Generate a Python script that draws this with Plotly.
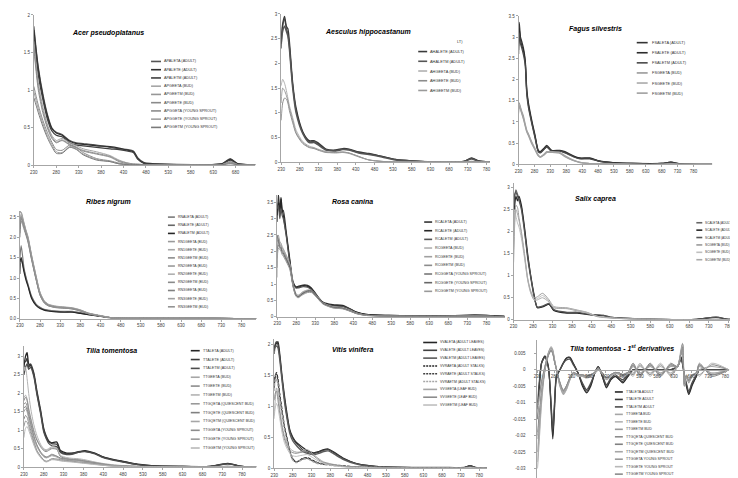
"""UV-Vis spectra of plant extracts - nine panel Excel style recreation."""

import plotly.graph_objects as go

W, H = 738, 478
FONT = "Liberation Sans"
AXIS = "#a6a6a6"

TICK_NM = [230, 280, 330, 380, 430, 480, 530, 580, 630, 680, 730, 780]

# ---------------- Acer pseudoplatanus ----------------
ACER_NM = [230, 235, 240, 250, 260, 270, 280, 293, 310, 325, 340, 370, 400, 420, 440, 452, 462, 475, 500, 600, 650, 668, 685, 724]
ap_aleta = [1.85, 1.55, 1.30, 0.95, 0.68, 0.50, 0.44, 0.41, 0.33, 0.30, 0.29, 0.27, 0.24, 0.22, 0.21, 0.19, 0.10, 0.04, 0.02, 0.01, 0.02, 0.09, 0.02, 0.01]
ap_alete = [1.80, 1.52, 1.27, 0.92, 0.66, 0.49, 0.43, 0.40, 0.32, 0.29, 0.28, 0.26, 0.25, 0.23, 0.20, 0.18, 0.09, 0.03, 0.02, 0.01, 0.02, 0.08, 0.02, 0.01]
ap_aletm = [1.72, 1.45, 1.20, 0.88, 0.62, 0.46, 0.40, 0.38, 0.30, 0.27, 0.26, 0.24, 0.22, 0.21, 0.19, 0.17, 0.08, 0.03, 0.01, 0.01, 0.02, 0.07, 0.02, 0.01]
ap_geeta = [1.65, 1.35, 1.10, 0.78, 0.55, 0.40, 0.33, 0.36, 0.30, 0.26, 0.22, 0.18, 0.13, 0.07, 0.03, 0.02, 0.02, 0.01, 0.01, 0.01, 0.01, 0.05, 0.01, 0.01]
ap_geetm = [1.60, 1.30, 1.05, 0.74, 0.52, 0.38, 0.31, 0.34, 0.28, 0.24, 0.20, 0.16, 0.12, 0.06, 0.03, 0.02, 0.01, 0.01, 0.01, 0.01, 0.01, 0.05, 0.01, 0.01]
ap_geete = [1.55, 1.25, 1.00, 0.70, 0.50, 0.36, 0.30, 0.33, 0.27, 0.23, 0.19, 0.15, 0.11, 0.05, 0.02, 0.01, 0.01, 0.01, 0.01, 0.01, 0.01, 0.04, 0.01, 0.01]
ap_ggeta = [1.05, 0.92, 0.80, 0.60, 0.44, 0.31, 0.21, 0.20, 0.27, 0.24, 0.17, 0.09, 0.06, 0.03, 0.01, 0.01, 0.01, 0.00, 0.00, 0.00, 0.01, 0.03, 0.01, 0.00]
ap_ggete = [0.98, 0.86, 0.75, 0.56, 0.40, 0.28, 0.18, 0.17, 0.25, 0.22, 0.15, 0.08, 0.05, 0.02, 0.01, 0.01, 0.01, 0.00, 0.00, 0.00, 0.01, 0.03, 0.01, 0.00]
ap_ggetm = [0.90, 0.80, 0.70, 0.52, 0.37, 0.25, 0.16, 0.16, 0.24, 0.21, 0.14, 0.07, 0.05, 0.02, 0.01, 0.01, 0.01, 0.00, 0.00, 0.00, 0.01, 0.02, 0.01, 0.00]

# ---------------- Aesculus hippocastanum ----------------
AESC_NM = [230, 234, 239, 244, 248, 252, 261, 270, 288, 305, 318, 328, 350, 376, 395, 412, 438, 465, 500, 536, 580, 650, 720, 740, 760, 789]
ah_aleta = [2.30, 2.75, 2.90, 2.70, 2.60, 2.35, 1.55, 1.05, 0.60, 0.42, 0.42, 0.38, 0.26, 0.24, 0.27, 0.26, 0.20, 0.17, 0.12, 0.06, 0.03, 0.01, 0.02, 0.08, 0.03, 0.01]
ah_alete = [2.50, 2.80, 2.95, 2.75, 2.70, 2.45, 1.60, 1.10, 0.62, 0.44, 0.44, 0.40, 0.27, 0.25, 0.28, 0.27, 0.21, 0.18, 0.12, 0.06, 0.03, 0.01, 0.02, 0.09, 0.03, 0.01]
ah_aletm = [2.40, 2.65, 2.75, 2.65, 2.55, 2.30, 1.50, 1.00, 0.58, 0.40, 0.40, 0.36, 0.25, 0.23, 0.26, 0.25, 0.19, 0.16, 0.11, 0.05, 0.03, 0.01, 0.02, 0.07, 0.02, 0.01]
ah_geeta = [1.55, 1.68, 1.60, 1.45, 1.30, 1.15, 0.90, 0.65, 0.42, 0.33, 0.30, 0.27, 0.22, 0.20, 0.21, 0.19, 0.12, 0.05, 0.02, 0.01, 0.01, 0.01, 0.01, 0.02, 0.01, 0.01]
ah_geete = [0.85, 1.20, 1.30, 1.28, 1.20, 1.05, 0.80, 0.58, 0.38, 0.30, 0.28, 0.25, 0.20, 0.20, 0.21, 0.19, 0.12, 0.05, 0.02, 0.01, 0.01, 0.01, 0.01, 0.02, 0.01, 0.01]
ah_geetm = [1.20, 1.50, 1.45, 1.35, 1.25, 1.10, 0.85, 0.60, 0.40, 0.31, 0.29, 0.26, 0.21, 0.19, 0.20, 0.18, 0.11, 0.05, 0.02, 0.01, 0.01, 0.01, 0.01, 0.02, 0.01, 0.01]

# ---------------- Fagus silvestris ----------------
FAGUS_NM = [230, 232, 236, 240, 245, 251, 256, 261, 272, 282, 292, 298, 310, 319, 334, 360, 376, 402, 423, 454, 485, 527, 589, 680, 709, 740, 839]
fs_aleta = [2.80, 3.35, 3.00, 2.90, 2.75, 2.45, 1.75, 1.45, 1.02, 0.68, 0.33, 0.30, 0.38, 0.45, 0.33, 0.33, 0.30, 0.20, 0.15, 0.15, 0.08, 0.04, 0.02, 0.02, 0.05, 0.01, 0.00]
fs_alete = [2.60, 3.20, 2.95, 2.80, 2.70, 2.40, 1.70, 1.40, 0.98, 0.65, 0.31, 0.28, 0.36, 0.42, 0.32, 0.32, 0.28, 0.19, 0.14, 0.14, 0.07, 0.04, 0.02, 0.02, 0.05, 0.01, 0.00]
fs_aletm = [2.70, 3.10, 2.85, 2.75, 2.60, 2.35, 1.65, 1.35, 0.95, 0.62, 0.30, 0.27, 0.35, 0.41, 0.31, 0.31, 0.27, 0.18, 0.13, 0.13, 0.07, 0.03, 0.02, 0.02, 0.04, 0.01, 0.00]
fs_geeta = [1.30, 1.45, 1.35, 1.25, 1.15, 0.95, 0.80, 0.72, 0.52, 0.37, 0.22, 0.18, 0.24, 0.30, 0.30, 0.28, 0.20, 0.10, 0.05, 0.02, 0.01, 0.01, 0.00, 0.00, 0.01, 0.00, 0.00]
fs_geete = [1.25, 1.42, 1.32, 1.22, 1.10, 0.92, 0.78, 0.70, 0.50, 0.35, 0.21, 0.17, 0.23, 0.29, 0.29, 0.27, 0.19, 0.09, 0.05, 0.02, 0.01, 0.01, 0.00, 0.00, 0.01, 0.00, 0.00]
fs_geetm = [1.20, 1.38, 1.30, 1.20, 1.08, 0.90, 0.76, 0.68, 0.48, 0.34, 0.20, 0.17, 0.22, 0.28, 0.28, 0.26, 0.18, 0.09, 0.04, 0.02, 0.01, 0.01, 0.00, 0.00, 0.01, 0.00, 0.00]

# ---------------- Ribes nigrum ----------------
RIBES_NM = [230, 233, 240, 245, 250, 259, 270, 280, 290, 300, 320, 340, 360, 380, 400, 420, 440, 460, 480, 600, 712, 817]
rn_aleta = [1.50, 1.80, 1.25, 1.02, 0.85, 0.55, 0.36, 0.28, 0.23, 0.21, 0.19, 0.18, 0.18, 0.15, 0.11, 0.08, 0.05, 0.02, 0.01, 0.01, 0.01, 0.00]
rn_alete = [1.10, 1.45, 1.20, 1.00, 0.82, 0.52, 0.34, 0.27, 0.22, 0.20, 0.18, 0.17, 0.17, 0.14, 0.10, 0.08, 0.05, 0.02, 0.01, 0.01, 0.01, 0.00]
rn_aletm = [1.40, 1.50, 1.15, 0.95, 0.80, 0.50, 0.33, 0.25, 0.21, 0.19, 0.17, 0.16, 0.16, 0.13, 0.10, 0.07, 0.04, 0.02, 0.01, 0.01, 0.01, 0.00]
rn_1geeta = [2.65, 2.60, 2.35, 2.15, 1.98, 1.52, 1.02, 0.62, 0.42, 0.34, 0.29, 0.27, 0.25, 0.20, 0.13, 0.09, 0.05, 0.02, 0.01, 0.01, 0.01, 0.00]
rn_1geete = [2.40, 2.55, 2.30, 2.12, 1.95, 1.50, 1.00, 0.60, 0.41, 0.33, 0.28, 0.27, 0.25, 0.20, 0.13, 0.09, 0.05, 0.02, 0.01, 0.01, 0.01, 0.00]
rn_1geetm = [2.00, 2.45, 2.25, 2.08, 1.90, 1.46, 0.97, 0.58, 0.40, 0.32, 0.28, 0.26, 0.24, 0.19, 0.12, 0.08, 0.05, 0.02, 0.01, 0.01, 0.01, 0.00]
rn_2geeta = [2.30, 2.50, 2.32, 2.15, 2.00, 1.55, 1.05, 0.64, 0.44, 0.35, 0.30, 0.28, 0.26, 0.21, 0.14, 0.09, 0.05, 0.02, 0.01, 0.01, 0.01, 0.00]
rn_2geete = [2.50, 2.58, 2.28, 2.10, 1.93, 1.48, 0.99, 0.60, 0.41, 0.33, 0.29, 0.27, 0.25, 0.20, 0.13, 0.09, 0.05, 0.02, 0.01, 0.01, 0.01, 0.00]
rn_2geetm = [2.10, 2.40, 2.20, 2.05, 1.88, 1.44, 0.96, 0.57, 0.39, 0.32, 0.27, 0.26, 0.24, 0.19, 0.12, 0.08, 0.04, 0.02, 0.01, 0.01, 0.01, 0.00]
rn_3geeta = [2.20, 2.48, 2.30, 2.12, 1.96, 1.51, 1.01, 0.61, 0.42, 0.34, 0.29, 0.28, 0.26, 0.21, 0.13, 0.09, 0.05, 0.02, 0.01, 0.01, 0.01, 0.00]
rn_3geete = [2.60, 2.62, 2.36, 2.18, 2.02, 1.56, 1.06, 0.65, 0.45, 0.36, 0.31, 0.29, 0.27, 0.22, 0.14, 0.10, 0.06, 0.02, 0.01, 0.01, 0.01, 0.00]
rn_3geetm = [2.35, 2.52, 2.27, 2.10, 1.94, 1.49, 0.99, 0.59, 0.40, 0.33, 0.28, 0.27, 0.25, 0.20, 0.13, 0.09, 0.05, 0.02, 0.01, 0.01, 0.01, 0.00]

# ---------------- Rosa canina ----------------
ROSA_NM = [230, 233, 237, 240, 243, 246, 254, 263, 272, 279, 285, 298, 310, 320, 333, 350, 376, 402, 424, 437, 463, 524, 650, 750, 828]
rc_aleta = [2.90, 3.75, 3.30, 3.60, 3.20, 3.25, 2.57, 1.77, 1.06, 0.92, 0.93, 0.97, 0.96, 0.88, 0.68, 0.45, 0.37, 0.35, 0.23, 0.15, 0.07, 0.04, 0.02, 0.05, 0.01]
rc_alete = [3.10, 3.50, 3.15, 3.65, 3.30, 3.10, 2.50, 1.70, 1.02, 0.90, 0.90, 0.95, 0.93, 0.85, 0.65, 0.43, 0.35, 0.33, 0.22, 0.14, 0.07, 0.04, 0.02, 0.05, 0.01]
rc_aletm = [3.30, 3.40, 3.00, 3.30, 3.10, 3.00, 2.45, 1.65, 1.00, 0.88, 0.88, 0.92, 0.90, 0.82, 0.63, 0.42, 0.33, 0.31, 0.21, 0.13, 0.06, 0.03, 0.02, 0.04, 0.01]
rc_geeta = [1.20, 2.40, 2.25, 2.20, 2.10, 2.05, 1.85, 1.60, 0.98, 0.70, 0.64, 0.75, 0.80, 0.80, 0.65, 0.42, 0.30, 0.27, 0.18, 0.12, 0.05, 0.02, 0.01, 0.02, 0.00]
rc_geete = [1.80, 2.50, 2.30, 2.25, 2.15, 2.08, 1.88, 1.62, 1.00, 0.72, 0.66, 0.77, 0.82, 0.81, 0.66, 0.43, 0.31, 0.28, 0.19, 0.12, 0.05, 0.02, 0.01, 0.02, 0.00]
rc_geetm = [2.30, 2.35, 2.20, 2.15, 2.05, 2.00, 1.80, 1.55, 0.95, 0.68, 0.62, 0.73, 0.78, 0.78, 0.63, 0.41, 0.29, 0.26, 0.17, 0.11, 0.05, 0.02, 0.01, 0.02, 0.00]
rc_ggeta = [2.00, 2.20, 2.10, 2.05, 1.95, 1.90, 1.72, 1.50, 0.92, 0.65, 0.60, 0.70, 0.76, 0.76, 0.62, 0.40, 0.28, 0.25, 0.16, 0.10, 0.04, 0.02, 0.01, 0.02, 0.00]
rc_ggete = [2.50, 2.30, 2.15, 2.10, 2.00, 1.95, 1.76, 1.52, 0.94, 0.67, 0.61, 0.72, 0.79, 0.79, 0.64, 0.41, 0.29, 0.26, 0.17, 0.11, 0.05, 0.02, 0.01, 0.02, 0.00]
rc_ggetm = [1.50, 2.10, 2.05, 2.00, 1.90, 1.85, 1.68, 1.45, 0.90, 0.63, 0.58, 0.68, 0.74, 0.74, 0.60, 0.39, 0.27, 0.24, 0.16, 0.10, 0.04, 0.02, 0.01, 0.02, 0.00]

# ---------------- Salix caprea ----------------
SALIX_NM = [230, 233, 236, 240, 244, 250, 258, 266, 274, 283, 291, 304, 321, 333, 367, 393, 418, 444, 460, 477, 520, 600, 700, 749, 780, 823]
sc_aleta = [2.40, 2.80, 2.95, 2.85, 2.75, 2.55, 2.05, 1.40, 0.95, 0.50, 0.28, 0.30, 0.36, 0.22, 0.16, 0.16, 0.13, 0.10, 0.10, 0.06, 0.03, 0.01, 0.01, 0.06, 0.01, 0.00]
sc_alete = [2.20, 2.60, 2.80, 2.70, 2.80, 2.60, 2.10, 1.50, 1.00, 0.55, 0.27, 0.29, 0.35, 0.21, 0.15, 0.15, 0.12, 0.10, 0.09, 0.05, 0.03, 0.01, 0.01, 0.05, 0.01, 0.00]
sc_aletm = [2.50, 2.85, 2.90, 2.80, 2.70, 2.50, 2.00, 1.45, 0.98, 0.52, 0.29, 0.31, 0.37, 0.23, 0.17, 0.17, 0.13, 0.11, 0.10, 0.06, 0.03, 0.01, 0.01, 0.06, 0.01, 0.00]
sc_geeta = [1.30, 2.20, 2.60, 2.55, 2.30, 2.00, 1.50, 0.95, 0.65, 0.50, 0.52, 0.60, 0.45, 0.30, 0.27, 0.22, 0.17, 0.08, 0.06, 0.05, 0.02, 0.01, 0.00, 0.01, 0.00, 0.00]
sc_geete = [1.80, 2.50, 2.35, 2.20, 2.10, 1.85, 1.40, 0.90, 0.60, 0.46, 0.48, 0.55, 0.42, 0.28, 0.26, 0.21, 0.16, 0.08, 0.06, 0.04, 0.02, 0.01, 0.00, 0.01, 0.00, 0.00]
sc_geetm = [1.60, 2.30, 2.50, 2.40, 2.25, 1.95, 1.45, 0.92, 0.62, 0.44, 0.45, 0.50, 0.40, 0.27, 0.25, 0.20, 0.15, 0.07, 0.05, 0.04, 0.02, 0.01, 0.00, 0.01, 0.00, 0.00]

# ---------------- Tilia tomentosa ----------------
TILIA_NM = [230, 234, 238, 242, 247, 255, 263, 272, 280, 286, 292, 300, 313, 322, 338, 351, 367, 384, 409, 430, 451, 484, 517, 551, 620, 700, 744, 780, 816]
tt_aleta = [2.70, 3.00, 3.10, 2.80, 2.75, 2.50, 2.00, 1.50, 1.00, 0.82, 0.70, 0.66, 0.68, 0.45, 0.38, 0.38, 0.40, 0.45, 0.38, 0.28, 0.22, 0.15, 0.08, 0.04, 0.02, 0.02, 0.10, 0.02, 0.01]
tt_alete = [2.90, 2.85, 2.95, 2.70, 2.80, 2.55, 2.05, 1.55, 1.05, 0.85, 0.72, 0.64, 0.62, 0.42, 0.36, 0.37, 0.42, 0.43, 0.37, 0.27, 0.21, 0.14, 0.07, 0.04, 0.02, 0.02, 0.09, 0.02, 0.01]
tt_aletm = [2.50, 2.70, 2.80, 2.65, 2.70, 2.45, 1.95, 1.45, 0.95, 0.78, 0.65, 0.58, 0.55, 0.40, 0.34, 0.35, 0.40, 0.42, 0.36, 0.26, 0.20, 0.13, 0.07, 0.03, 0.02, 0.02, 0.09, 0.02, 0.01]
tt_geeta = [1.90, 1.95, 1.85, 1.60, 1.35, 1.00, 0.75, 0.58, 0.48, 0.45, 0.48, 0.52, 0.50, 0.30, 0.24, 0.22, 0.21, 0.18, 0.13, 0.09, 0.06, 0.03, 0.02, 0.01, 0.01, 0.00, 0.02, 0.00, 0.00]
tt_geete = [1.80, 1.90, 1.80, 1.55, 1.30, 0.95, 0.72, 0.55, 0.45, 0.42, 0.45, 0.50, 0.48, 0.29, 0.23, 0.21, 0.20, 0.17, 0.12, 0.08, 0.05, 0.03, 0.02, 0.01, 0.01, 0.00, 0.02, 0.00, 0.00]
tt_geetm = [2.60, 2.70, 2.40, 2.00, 1.60, 1.15, 0.85, 0.62, 0.50, 0.47, 0.50, 0.55, 0.52, 0.32, 0.26, 0.24, 0.23, 0.20, 0.14, 0.10, 0.07, 0.04, 0.02, 0.01, 0.01, 0.00, 0.03, 0.00, 0.00]
tt_gqeta = [1.70, 1.75, 1.65, 1.45, 1.20, 0.85, 0.60, 0.42, 0.32, 0.28, 0.30, 0.35, 0.30, 0.25, 0.22, 0.20, 0.19, 0.16, 0.12, 0.08, 0.05, 0.03, 0.02, 0.01, 0.01, 0.00, 0.02, 0.00, 0.00]
tt_gqete = [1.60, 1.65, 1.55, 1.38, 1.15, 0.82, 0.58, 0.40, 0.30, 0.26, 0.28, 0.33, 0.29, 0.24, 0.21, 0.19, 0.18, 0.15, 0.11, 0.08, 0.05, 0.03, 0.02, 0.01, 0.01, 0.00, 0.02, 0.00, 0.00]
tt_gqetm = [1.50, 1.58, 1.50, 1.32, 1.10, 0.78, 0.55, 0.38, 0.28, 0.25, 0.27, 0.31, 0.27, 0.22, 0.20, 0.18, 0.17, 0.14, 0.10, 0.07, 0.04, 0.02, 0.01, 0.01, 0.01, 0.00, 0.02, 0.00, 0.00]
tt_ggeta = [1.30, 1.40, 1.35, 1.20, 1.00, 0.70, 0.45, 0.30, 0.20, 0.16, 0.18, 0.23, 0.22, 0.20, 0.18, 0.16, 0.14, 0.12, 0.09, 0.06, 0.04, 0.02, 0.01, 0.01, 0.00, 0.00, 0.01, 0.00, 0.00]
tt_ggete = [1.10, 1.25, 1.22, 1.10, 0.92, 0.65, 0.42, 0.28, 0.18, 0.15, 0.17, 0.21, 0.20, 0.18, 0.16, 0.15, 0.13, 0.11, 0.08, 0.05, 0.03, 0.02, 0.01, 0.01, 0.00, 0.00, 0.01, 0.00, 0.00]
tt_ggetm = [0.80, 1.05, 1.10, 1.00, 0.85, 0.60, 0.40, 0.26, 0.17, 0.14, 0.16, 0.20, 0.19, 0.17, 0.15, 0.14, 0.12, 0.10, 0.07, 0.05, 0.03, 0.02, 0.01, 0.01, 0.00, 0.00, 0.01, 0.00, 0.00]

# ---------------- Vitis vinifera ----------------
VITIS_NM = [230, 232, 236, 240, 245, 251, 257, 264, 272, 280, 289, 297, 306, 319, 336, 350, 363, 375, 390, 416, 448, 484, 520, 600, 700, 740, 755, 770, 800]
vv_aleta = [1.90, 1.98, 2.02, 2.05, 1.85, 1.50, 1.20, 0.90, 0.62, 0.50, 0.42, 0.38, 0.34, 0.28, 0.25, 0.27, 0.30, 0.31, 0.26, 0.16, 0.08, 0.04, 0.02, 0.01, 0.01, 0.01, 0.04, 0.01, 0.00]
vv_alete = [1.95, 2.00, 2.05, 2.00, 1.80, 1.45, 1.15, 0.85, 0.60, 0.48, 0.40, 0.36, 0.30, 0.26, 0.24, 0.26, 0.29, 0.30, 0.25, 0.15, 0.08, 0.04, 0.02, 0.01, 0.01, 0.01, 0.04, 0.01, 0.00]
vv_aletm = [1.85, 1.95, 1.98, 1.95, 1.75, 1.42, 1.10, 0.82, 0.56, 0.44, 0.37, 0.32, 0.27, 0.24, 0.22, 0.24, 0.27, 0.28, 0.23, 0.14, 0.07, 0.03, 0.02, 0.01, 0.01, 0.01, 0.03, 0.01, 0.00]
vv_raeta = [1.30, 1.45, 1.55, 1.45, 1.20, 0.95, 0.70, 0.50, 0.28, 0.15, 0.10, 0.12, 0.16, 0.17, 0.12, 0.08, 0.07, 0.06, 0.05, 0.04, 0.02, 0.01, 0.01, 0.00, 0.00, 0.00, 0.01, 0.00, 0.00]
vv_raete = [1.35, 1.50, 1.52, 1.40, 1.15, 0.90, 0.68, 0.48, 0.27, 0.14, 0.10, 0.12, 0.15, 0.16, 0.11, 0.08, 0.06, 0.06, 0.05, 0.03, 0.02, 0.01, 0.01, 0.00, 0.00, 0.00, 0.01, 0.00, 0.00]
vv_raetm = [1.25, 1.40, 1.45, 1.35, 1.10, 0.88, 0.65, 0.45, 0.25, 0.13, 0.09, 0.11, 0.14, 0.15, 0.10, 0.07, 0.06, 0.05, 0.04, 0.03, 0.02, 0.01, 0.01, 0.00, 0.00, 0.00, 0.01, 0.00, 0.00]
vv_geeta = [0.85, 1.05, 1.30, 1.20, 0.95, 0.70, 0.52, 0.40, 0.32, 0.28, 0.26, 0.26, 0.28, 0.30, 0.22, 0.15, 0.10, 0.08, 0.06, 0.03, 0.02, 0.01, 0.01, 0.00, 0.00, 0.00, 0.01, 0.00, 0.00]
vv_geete = [1.10, 1.20, 1.25, 1.10, 0.88, 0.65, 0.48, 0.36, 0.28, 0.25, 0.24, 0.25, 0.26, 0.27, 0.20, 0.13, 0.09, 0.07, 0.05, 0.03, 0.02, 0.01, 0.01, 0.00, 0.00, 0.00, 0.01, 0.00, 0.00]
vv_geetm = [0.80, 0.95, 1.05, 0.98, 0.80, 0.58, 0.42, 0.32, 0.24, 0.20, 0.19, 0.20, 0.21, 0.22, 0.16, 0.11, 0.08, 0.06, 0.04, 0.02, 0.01, 0.01, 0.00, 0.00, 0.00, 0.00, 0.01, 0.00, 0.00]

# ---------------- Tilia tomentosa - 1st derivatives ----------------
DERIV_NM = [230, 236, 242, 252, 262, 270, 275, 280, 286, 296, 306, 315, 325, 335, 349, 362, 374, 386, 398, 408,
            420, 432, 445, 458, 470, 480, 495, 510, 530, 560, 590, 620, 640, 650, 655, 660, 666, 673, 682, 695,
            704, 740, 791]
d_aleta = [-0.012, -0.004, 0.002, 0.004, 0.001, -0.012, -0.021, -0.012, -0.002, 0.000, 0.002, 0.0035, 0.0038, 0.002, -0.001, -0.005, -0.007, -0.005, -0.001, 0.001,
           -0.002, -0.0055, -0.003, -0.002, -0.003, -0.004, -0.002, 0.000, 0.000, 0.000, 0.000, 0.000, 0.001, 0.004, 0.002, -0.002, -0.005, -0.0075, -0.005, -0.002,
           0.000, 0.000, 0.000]
d_alete = [-0.015, -0.005, 0.002, 0.0042, 0.001, -0.011, -0.020, -0.011, -0.002, 0.000, 0.0022, 0.0036, 0.0036, 0.0018, -0.001, -0.0045, -0.0065, -0.0045, -0.001, 0.001,
           -0.002, -0.005, -0.003, -0.002, -0.003, -0.0035, -0.002, 0.000, 0.000, 0.000, 0.000, 0.000, 0.001, 0.0035, 0.002, -0.002, -0.0045, -0.007, -0.0045, -0.002,
           0.000, 0.000, 0.000]
d_aletm = [-0.010, -0.003, 0.002, 0.0038, 0.0005, -0.010, -0.018, -0.010, -0.0015, 0.000, 0.002, 0.003, 0.0032, 0.0015, -0.001, -0.004, -0.006, -0.004, -0.001, 0.0008,
           -0.0015, -0.0045, -0.0025, -0.0015, -0.0025, -0.003, -0.0015, 0.000, 0.000, 0.000, 0.000, 0.000, 0.001, 0.003, 0.0015, -0.0015, -0.004, -0.0065, -0.004, -0.0015,
           0.000, 0.000, 0.000]
d_geeta = [-0.030, -0.020, -0.010, 0.000, 0.005, 0.007, 0.006, 0.003, 0.000, -0.005, -0.0075, -0.006, -0.003, -0.001, -0.002, -0.002, -0.0025, -0.002, -0.001, 0.000,
           -0.001, -0.003, -0.002, -0.001, -0.0015, -0.002, -0.001, 0.001, -0.001, 0.001, -0.001, 0.001, 0.001, 0.006, 0.008, -0.005, -0.002, -0.004, -0.002, -0.001,
           0.000, 0.001, 0.000]
d_geete = [-0.028, -0.018, -0.009, 0.0005, 0.0052, 0.0068, 0.0058, 0.003, 0.000, -0.0048, -0.0072, -0.0058, -0.003, -0.001, -0.0018, -0.002, -0.0022, -0.0018, -0.001, 0.000,
           -0.0012, -0.0028, -0.0018, -0.001, -0.0012, -0.0018, -0.001, -0.001, 0.001, -0.001, 0.001, -0.001, 0.001, 0.005, 0.007, -0.004, -0.002, -0.0035, -0.002, -0.001,
           0.001, -0.001, 0.000]
d_geetm = [-0.025, -0.016, -0.008, 0.000, 0.0048, 0.0065, 0.0055, 0.0028, 0.000, -0.0045, -0.007, -0.0055, -0.0028, -0.001, -0.0015, -0.0018, -0.002, -0.0015, -0.0008, 0.000,
           -0.001, -0.0025, -0.0015, -0.001, -0.001, -0.0015, -0.001, 0.0015, -0.0015, 0.0015, -0.0015, 0.0015, 0.001, 0.0045, 0.0065, -0.0035, -0.0015, -0.003, -0.0015, -0.001,
           0.0015, -0.0015, 0.000]
d_gqeta = [-0.020, -0.014, -0.007, 0.000, 0.0045, 0.006, 0.005, 0.0025, 0.000, -0.004, -0.0065, -0.005, -0.0025, -0.0008, -0.0015, -0.0015, -0.002, -0.0015, -0.0008, 0.0005,
           -0.001, -0.0025, -0.0015, -0.0008, -0.001, -0.0015, -0.0008, 0.002, -0.002, 0.002, -0.002, 0.002, 0.001, 0.005, 0.0075, -0.0045, -0.002, -0.0035, -0.002, -0.001,
           0.002, -0.002, 0.000]
d_gqete = [-0.019, -0.013, -0.0065, 0.000, 0.0042, 0.0058, 0.0048, 0.0024, 0.000, -0.0038, -0.0062, -0.0048, -0.0024, -0.0008, -0.0014, -0.0015, -0.0018, -0.0014, -0.0008, 0.0004,
           -0.0009, -0.0024, -0.0014, -0.0008, -0.001, -0.0014, -0.0008, -0.0015, 0.0015, -0.0015, 0.0015, -0.0015, 0.001, 0.0048, 0.007, -0.004, -0.0018, -0.0032, -0.0018, -0.0009,
           -0.0015, 0.0015, 0.000]
d_gqetm = [-0.021, -0.015, -0.0075, 0.000, 0.0046, 0.0062, 0.0052, 0.0026, 0.000, -0.0042, -0.0068, -0.0052, -0.0026, -0.0009, -0.0016, -0.0016, -0.0021, -0.0016, -0.0009, 0.0005,
           -0.0011, -0.0026, -0.0016, -0.0009, -0.0011, -0.0016, -0.0009, 0.001, -0.001, 0.001, -0.001, 0.001, 0.001, 0.0052, 0.0078, -0.005, -0.0021, -0.0037, -0.0021, -0.0011,
           0.001, -0.001, 0.000]
d_ggeta = [-0.012, -0.008, -0.004, 0.001, 0.005, 0.0065, 0.0055, 0.003, 0.000, -0.0045, -0.007, -0.0055, -0.0028, -0.001, -0.0018, -0.0018, -0.0022, -0.0018, -0.0009, 0.0003,
           -0.0011, -0.0027, -0.0017, -0.0009, -0.0012, -0.0017, -0.0009, 0.002, -0.0015, 0.0015, -0.002, 0.0015, 0.001, 0.0055, 0.0078, -0.0048, -0.002, -0.0038, -0.002, -0.001,
           0.0015, -0.0015, 0.000]
d_ggete = [-0.013, -0.009, -0.0045, 0.0008, 0.0048, 0.0063, 0.0053, 0.0028, 0.000, -0.0043, -0.0068, -0.0053, -0.0027, -0.001, -0.0017, -0.0017, -0.0021, -0.0017, -0.0009, 0.0003,
           -0.001, -0.0026, -0.0016, -0.0009, -0.0011, -0.0016, -0.0009, -0.002, 0.002, -0.002, 0.002, -0.002, 0.001, 0.0052, 0.0074, -0.0046, -0.002, -0.0036, -0.002, -0.001,
           -0.002, 0.002, 0.000]
d_ggetm = [-0.011, -0.0075, -0.0035, 0.001, 0.0046, 0.006, 0.005, 0.0026, 0.000, -0.004, -0.0065, -0.005, -0.0025, -0.0009, -0.0016, -0.0016, -0.002, -0.0016, -0.0008, 0.0003,
           -0.001, -0.0024, -0.0015, -0.0008, -0.001, -0.0015, -0.0008, 0.0015, -0.0015, 0.0015, -0.0015, 0.0015, 0.001, 0.005, 0.007, -0.0044, -0.0019, -0.0034, -0.0019, -0.0009,
           0.0015, -0.0015, 0.000]

DERIV_TICKS = [0.005, 0, -0.005, -0.01, -0.015, -0.02, -0.025, -0.03]
DERIV_TICKTEXT = ["0.005", "0", "-0.005", "-0.01", "-0.015", "-0.02", "-0.025", "-0.03"]

# series: (legend label, values, colour, width, dash)
# leg: (key start x, key end x, text x, first row y, row step, font size) in pixels
panels = [
    dict(title="Acer pseudoplatanus", nm=ACER_NM, box=(22, 245, 5, 157), xr=[230, 724], yr=[0, 2.0],
         title_at=(97, 23), leg=(140, 150, 152, 52, 8.33, 3.8),
         series=[("APALETA (ADULT)", ap_aleta, "#555555", 1.3, "solid"),
                 ("APALETE (ADULT)", ap_alete, "#303030", 1.3, "solid"),
                 ("APALETM (ADULT)", ap_aletm, "#404040", 1.3, "solid"),
                 ("APGEETA (BUD)", ap_geeta, "#a6a6a6", 1.0, "solid"),
                 ("APGEETM (BUD)", ap_geetm, "#969696", 1.0, "solid"),
                 ("APGEETE (BUD)", ap_geete, "#8a8a8a", 1.0, "solid"),
                 ("APGGETA (YOUNG SPROUT)", ap_ggeta, "#8c8c8c", 1.0, "solid"),
                 ("APGGETE (YOUNG SPROUT)", ap_ggete, "#a0a0a0", 1.0, "solid"),
                 ("APGGETM (YOUNG SPROUT)", ap_ggetm, "#7a7a7a", 1.0, "solid")]),
    dict(title="Aesculus hippocastanum", nm=AESC_NM, box=(271, 481, 4, 154), xr=[230, 789], yr=[0, 3.0],
         title_at=(358, 22), leg=(409, 418, 420, 42, 9.83, 3.9),
         series=[(None, ah_aleta, "#555555", 1.3, "solid"),
                 ("AHALETE (ADULT)", ah_alete, "#3a3a3a", 1.3, "solid"),
                 ("AHALETM (ADULT)", ah_aletm, "#555555", 1.5, "solid"),
                 ("AHGEETA (BUD)", ah_geeta, "#b0b0b0", 1.0, "solid"),
                 ("AHGEETE (BUD)", ah_geete, "#8c8c8c", 1.0, "solid"),
                 ("AHGEETM (BUD)", ah_geetm, "#9a9a9a", 1.0, "solid")]),
    dict(title="Fagus silvestris", nm=FAGUS_NM, box=(510, 705, 6, 156), xr=[230, 839], yr=[0, 3.5],
         title_at=(587, 19), leg=(629, 640, 643, 33, 10.2, 3.9),
         series=[("FSALETA (ADULT)", fs_aleta, "#333333", 1.3, "solid"),
                 ("FSALETE (ADULT)", fs_alete, "#2b2b2b", 1.3, "solid"),
                 ("FSALETM (ADULT)", fs_aletm, "#4a4a4a", 1.3, "solid"),
                 ("FSGEETA (BUD)", fs_geeta, "#999999", 1.2, "solid"),
                 ("FSGEETE (BUD)", fs_geete, "#aaaaaa", 1.2, "solid"),
                 ("FSGEETM (BUD)", fs_geetm, "#a0a0a0", 1.2, "solid")]),
    dict(title="Ribes nigrum", nm=RIBES_NM, box=(8, 246, 203, 312), xr=[230, 817], yr=[0, 2.65],
         title_at=(97, 194), leg=(157, 164, 166, 209.3, 8.24, 3.5), yfmt=".1f",
         series=[("RNALETA (ADULT)", rn_aleta, "#7a7a7a", 1.2, "solid"),
                 ("RNALETE (ADULT)", rn_alete, "#666666", 1.2, "solid"),
                 ("RNALETM (ADULT)", rn_aletm, "#262626", 1.2, "solid"),
                 ("RN1GEETA (BUD)", rn_1geeta, "#9a9a9a", 1.0, "solid"),
                 ("RN1GEETE (BUD)", rn_1geete, "#a8a8a8", 1.0, "solid"),
                 ("RN1GEETM (BUD)", rn_1geetm, "#8c8c8c", 1.0, "solid"),
                 ("RN2GEETA (BUD)", rn_2geeta, "#999999", 1.0, "solid"),
                 ("RN2GEETE (BUD)", rn_2geete, "#b0b0b0", 1.0, "solid"),
                 ("RN2GEETM (BUD)", rn_2geetm, "#8a8a8a", 1.0, "solid"),
                 ("RN3GEETA (BUD)", rn_3geeta, "#808080", 1.0, "solid"),
                 ("RN3GEETE (BUD)", rn_3geete, "#a0a0a0", 1.0, "solid"),
                 ("RN3GEETM (BUD)", rn_3geetm, "#939393", 1.0, "solid")]),
    dict(title="Rosa canina", nm=ROSA_NM, box=(267, 496, 187, 310), xr=[230, 828], yr=[0, 3.72],
         title_at=(343, 194), leg=(415, 423, 425, 214.3, 8.75, 3.7),
         series=[("RCALETA (ADULT)", rc_aleta, "#333333", 1.2, "solid"),
                 ("RCALETE (ADULT)", rc_alete, "#262626", 1.2, "solid"),
                 ("RCALETM (ADULT)", rc_aletm, "#555555", 1.2, "solid"),
                 ("RCGEETA (BUD)", rc_geeta, "#b0b0b0", 1.0, "solid"),
                 ("RCGEETE (BUD)", rc_geete, "#a0a0a0", 1.0, "solid"),
                 ("RCGEETM (BUD)", rc_geetm, "#8c8c8c", 1.0, "solid"),
                 ("RCGGETA (YOUNG SPROUT)", rc_ggeta, "#777777", 1.0, "solid"),
                 ("RCGGETE (YOUNG SPROUT)", rc_ggete, "#666666", 1.0, "solid"),
                 ("RCGGETM (YOUNG SPROUT)", rc_ggetm, "#999999", 1.0, "solid")]),
    dict(title="Salix caprea", nm=SALIX_NM, box=(505, 738, 175, 313), xr=[230, 823], yr=[0, 3.1],
         title_at=(587, 191), leg=(689, 695, 697, 215, 7.47, 3.2),
         series=[("SCALETA (ADULT)", sc_aleta, "#666666", 1.2, "solid"),
                 ("SCALETE (ADULT)", sc_alete, "#262626", 1.2, "solid"),
                 ("SCALETM (ADULT)", sc_aletm, "#555555", 1.2, "solid"),
                 ("SCGEETA (BUD)", sc_geeta, "#999999", 1.0, "solid"),
                 ("SCGEETE (BUD)", sc_geete, "#bfbfbf", 1.0, "solid"),
                 ("SCGEETM (BUD)", sc_geetm, "#aaaaaa", 1.0, "solid")]),
    dict(title="Tilia tomentosa", nm=TILIA_NM, box=(12, 246, 340, 462), xr=[230, 816], yr=[0, 3.27],
         title_at=(100, 344), leg=(180, 189, 191, 344.3, 8.94, 3.7),
         series=[("TTALETA (ADULT)", tt_aleta, "#262626", 1.3, "solid"),
                 ("TTALETE (ADULT)", tt_alete, "#3a3a3a", 1.3, "solid"),
                 ("TTALETM (ADULT)", tt_aletm, "#4d4d4d", 1.3, "solid"),
                 ("TTGEETA (BUD)", tt_geeta, "#a6a6a6", 1.0, "solid"),
                 ("TTGEETE (BUD)", tt_geete, "#8c8c8c", 1.0, "solid"),
                 ("TTGEETM (BUD)", tt_geetm, "#b3b3b3", 1.0, "solid"),
                 ("TTGQETA (QUIESCENT BUD)", tt_gqeta, "#999999", 1.0, "solid"),
                 ("TTGQETE (QUIESCENT BUD)", tt_gqete, "#808080", 1.0, "solid"),
                 ("TTGQETM (QUIESCENT BUD)", tt_gqetm, "#a6a6a6", 1.0, "solid"),
                 ("TTGGETA (YOUNG SPROUT)", tt_ggeta, "#8c8c8c", 1.0, "solid"),
                 ("TTGGETE (YOUNG SPROUT)", tt_ggete, "#9a9a9a", 1.0, "solid"),
                 ("TTGGETM (YOUNG SPROUT)", tt_ggetm, "#b8b8b8", 1.0, "solid")]),
    dict(title="Vitis vinifera", nm=VITIS_NM, box=(264, 478, 332, 463), xr=[230, 800], yr=[0, 2.1],
         title_at=(343, 343), leg=(414, 428, 430, 336, 7.9, 3.5),
         series=[("VVALETA (ADULT LEAVES)", vv_aleta, "#262626", 1.2, "solid"),
                 ("VVALETE (ADULT LEAVES)", vv_alete, "#404040", 1.2, "solid"),
                 ("VVALETM (ADULT LEAVES)", vv_aletm, "#5a5a5a", 1.4, "solid"),
                 ("VVRAETA (ADULT STALKS)", vv_raeta, "#262626", 1.2, "3px,1.5px"),
                 ("VVRAETE (ADULT STALKS)", vv_raete, "#404040", 1.2, "3px,1.5px"),
                 ("VVRAETM (ADULT STALKS)", vv_raetm, "#a6a6a6", 1.4, "3px,1.5px"),
                 ("VVGEETA (LEAF BUD)", vv_geeta, "#a6a6a6", 1.0, "solid"),
                 ("VVGEETE (LEAF BUD)", vv_geete, "#8c8c8c", 1.0, "solid"),
                 ("VVGEETM (LEAF BUD)", vv_geetm, "#bfbfbf", 1.0, "solid")]),
    dict(title="Tilia tomentosa - 1<sup>st</sup> derivatives", nm=DERIV_NM, box=(529, 722, 333, 475),
         xr=[230, 791], yr=[-0.0335, 0.0092], title_at=(614, 342), leg=(607, 615, 617, 386, 7.55, 3.6), deriv=True,
         series=[("TTALETA ADULT", d_aleta, "#262626", 1.2, "solid"),
                 ("TTALETE ADULT", d_alete, "#3a3a3a", 1.2, "solid"),
                 ("TTALETM ADULT", d_aletm, "#4d4d4d", 1.2, "solid"),
                 ("TTGEETA BUD", d_geeta, "#a6a6a6", 1.2, "solid"),
                 ("TTGEETE BUD", d_geete, "#b3b3b3", 1.2, "solid"),
                 ("TTGEETM BUD", d_geetm, "#999999", 1.0, "solid"),
                 ("TTGQETA QUIESCENT BUD", d_gqeta, "#8c8c8c", 1.0, "solid"),
                 ("TTGQETE QUIESCENT BUD", d_gqete, "#808080", 1.0, "solid"),
                 ("TTGQETM QUIESCENT BUD", d_gqetm, "#a6a6a6", 1.0, "solid"),
                 ("TTGGETA YOUNG SPROUT", d_ggeta, "#999999", 1.0, "solid"),
                 ("TTGGETE YOUNG SPROUT", d_ggete, "#b8b8b8", 1.0, "solid"),
                 ("TTGGETM YOUNG SPROUT", d_ggetm, "#8c8c8c", 1.0, "solid")]),
]


def note(x, y, text, size, color="#333333", anchor="left"):
    return dict(x=x / W, y=1 - y / H, xref="paper", yref="paper", text=text, showarrow=False,
                xanchor=anchor, yanchor="middle", borderpad=0,
                font=dict(size=size, color=color, family=FONT))


fig = go.Figure()
annotations = []
shapes = []
layout = {}
tick_font = dict(size=4.5, color="#404040", family=FONT)

for i, p in enumerate(panels, start=1):
    sfx = "" if i == 1 else str(i)
    x0, x1, y0, y1 = p["box"]
    for label, vals, color, width, dash in p["series"]:
        assert len(vals) == len(p["nm"]), label
        fig.add_trace(go.Scatter(
            x=p["nm"], y=vals, xaxis="x" + sfx, yaxis="y" + sfx, mode="lines",
            line=dict(color=color, width=width, dash=dash, shape="spline", smoothing=0.7),
            showlegend=False, hoverinfo="skip"))

    xa = dict(domain=[x0 / W, x1 / W], range=p["xr"], anchor="y" + sfx, tickvals=TICK_NM,
              showline=True, linecolor=AXIS, linewidth=1, ticks="outside", ticklen=2, tickcolor=AXIS,
              tickfont=tick_font, showgrid=False, zeroline=False)
    ya = dict(domain=[1 - y1 / H, 1 - y0 / H], range=p["yr"], anchor="x" + sfx,
              showline=True, linecolor=AXIS, linewidth=1, ticks="outside", ticklen=2, tickcolor=AXIS,
              tickfont=tick_font, showgrid=False, zeroline=False)
    if p.get("deriv"):
        lo, hi = p["yr"]
        zero_px = y0 + hi / (hi - lo) * (y1 - y0)
        xa.update(anchor="free", position=1 - zero_px / H)
        ya.update(tickvals=DERIV_TICKS, ticktext=DERIV_TICKTEXT, ticklabelstandoff=8)
    else:
        ya.update(dtick=0.5, tickformat=p.get("yfmt", ""))
    layout["xaxis" + sfx] = xa
    layout["yaxis" + sfx] = ya

    tx, ty = p["title_at"]
    annotations.append(note(tx, ty, "<b><i>%s</i></b>" % p["title"], 7, "#000000", "center"))

    # hand-drawn legend: a short line key plus a small label per series
    kx0, kx1, text_x, ly, step, fsize = p["leg"]
    row = 0
    for label, vals, color, width, dash in p["series"]:
        if label is None:
            continue
        yy = 1 - (ly + row * step) / H
        shapes.append(dict(type="line", xref="paper", yref="paper", x0=kx0 / W, x1=kx1 / W, y0=yy, y1=yy,
                           line=dict(color=color, width=1.6, dash="2px,1px" if dash != "solid" else "solid")))
        annotations.append(note(text_x, ly + row * step, label, fsize, "#333333"))
        row += 1

# clipped first legend entry of the Aesculus panel
annotations.append(note(455, 32, "LT)", 3.9, "#333333", "right"))

fig.update_layout(
    width=W, height=H, margin=dict(l=0, r=0, t=0, b=0), autosize=False,
    paper_bgcolor="white", plot_bgcolor="white", showlegend=False,
    font=dict(family=FONT), annotations=annotations, shapes=shapes, **layout)

fig.write_html("out.html")
